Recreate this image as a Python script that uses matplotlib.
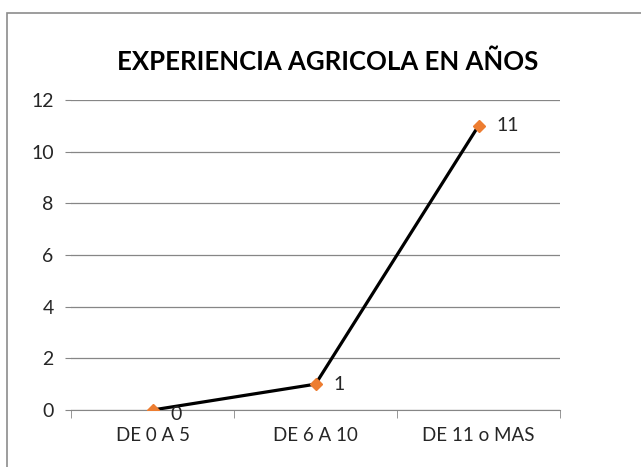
import matplotlib.pyplot as plt
from matplotlib.patches import Rectangle

plt.rcParams['font.family'] = ['Lato', 'DejaVu Sans']

# data
categorias = ['DE 0 A 5', 'DE 6 A 10', 'DE 11 o MAS']
valores = [0, 1, 11]
etiquetas_y = [0, 2, 4, 6, 8, 10, 12]

fig = plt.figure(figsize=(6.41, 4.67), dpi=100)
fig.patches.append(Rectangle((7/641, -0.1), 1.0, 1 - 13/467 + 0.1, transform=fig.transFigure,
                             fill=False, edgecolor='#8c8c8c', linewidth=1.2))

ax = fig.add_axes([71/641, 1 - 410/467, (560 - 71)/641, (410 - 100)/467])
x = range(len(categorias))
ax.plot(x, valores, color='black', linewidth=2.3, zorder=3)
ax.plot(x, valores, linestyle='none', marker='D', markersize=6.5,
        color='#ED7D31', zorder=4)

for i, v in enumerate(valores):
    dy = -3 if v == 0 else 0
    ax.annotate(str(v), (i, v), textcoords='offset points', xytext=(13, dy),
                ha='left', va='center', fontsize=14, color='#262626')

ax.set_xlim(-0.5, len(categorias) - 0.5)
ax.set_ylim(0, 12)
ax.set_yticks(etiquetas_y)
ax.set_xticks(x)
ax.set_xticklabels(categorias)
ax.set_xticks([-0.5, 0.5, 1.5, 2.5], minor=True)
ax.tick_params(axis='x', which='major', length=0, pad=12, labelsize=13.5, labelcolor='#262626')
ax.tick_params(axis='x', which='minor', length=6, color='#868686', direction='out')
ax.tick_params(axis='y', length=4.5, color='#868686', labelsize=14, labelcolor='#262626', pad=8)
ax.grid(axis='y', color='#868686', linewidth=0.9)
ax.set_axisbelow(True)
for s in ['top', 'right', 'left']:
    ax.spines[s].set_visible(False)
ax.spines['bottom'].set_color('#868686')

fig.text(328/641, 1 - 62/467, 'EXPERIENCIA AGRICOLA EN AÑOS', ha='center', va='center',
         fontsize=18.5, fontweight='bold', color='black')

fig.savefig('out.png', dpi=100)
